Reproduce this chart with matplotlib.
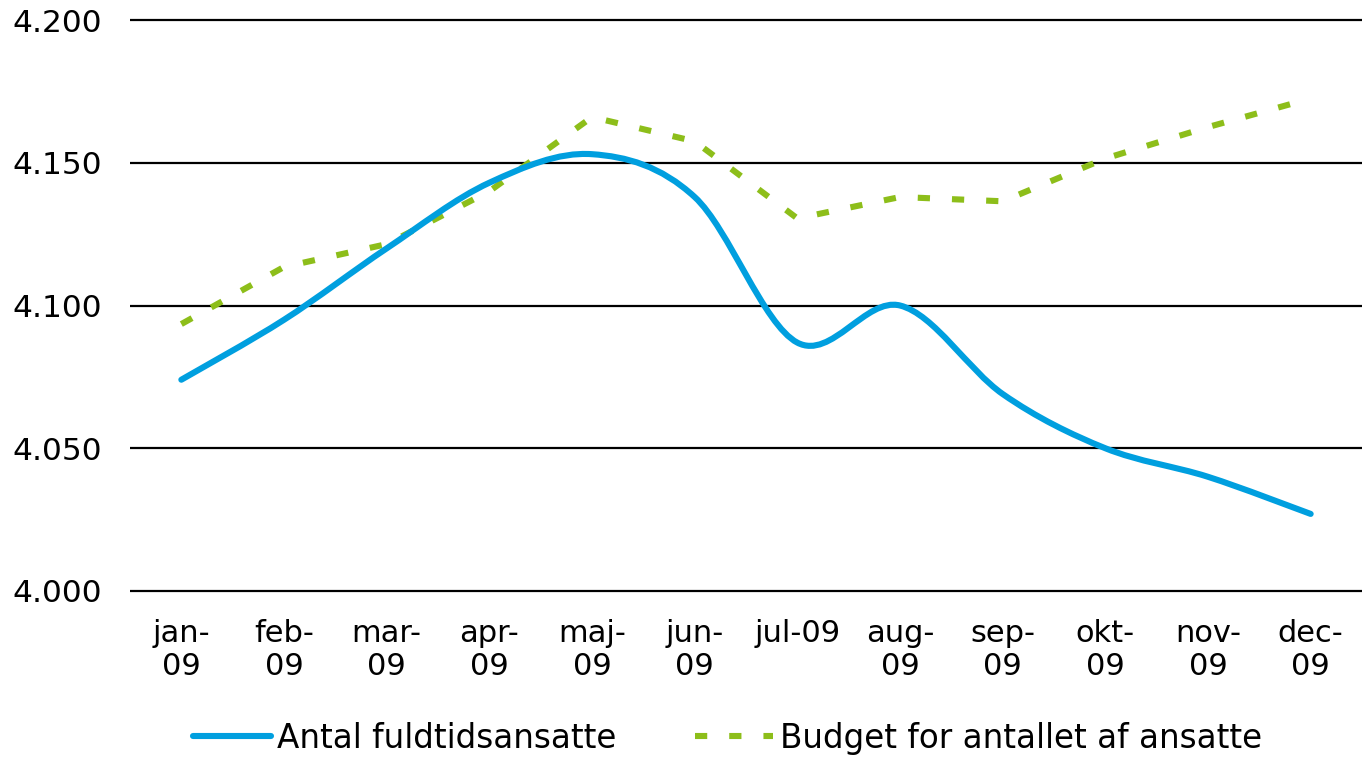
import matplotlib
matplotlib.use("Agg")
import matplotlib.pyplot as plt
from matplotlib.path import Path
from matplotlib.patches import PathPatch
from matplotlib.lines import Line2D

months = ["jan-\n09", "feb-\n09", "mar-\n09", "apr-\n09", "maj-\n09", "jun-\n09",
          "jul-09", "aug-\n09", "sep-\n09", "okt-\n09", "nov-\n09", "dec-\n09"]
antal = [4074, 4095, 4120, 4143, 4153, 4138, 4087, 4100, 4069, 4050, 4040, 4027]
budget = [4093.5, 4113.5, 4121.5, 4140, 4166, 4157.5, 4130.5, 4138, 4136.5, 4151.5, 4162.5, 4172.5]
yticks = [4000, 4050, 4100, 4150, 4200]
ytick_labels = ["4.000", "4.050", "4.100", "4.150", "4.200"]
series_names = ["Antal fuldtidsansatte", "Budget for antallet af ansatte"]

BLUE = "#009FDF"
GREEN = "#8DBE1A"
FS = 22.5

plt.rcParams["font.family"] = ["DejaVu Sans"]


def smooth_path(xs, ys):
    n = len(xs)
    verts = [(xs[0], ys[0])]
    codes = [Path.MOVETO]
    for i in range(n - 1):
        a = i - 1 if i > 0 else i
        b = i + 2 if i + 2 < n else i + 1
        c1 = (xs[i] + (xs[i + 1] - xs[a]) / 6.0, ys[i] + (ys[i + 1] - ys[a]) / 6.0)
        c2 = (xs[i + 1] - (xs[b] - xs[i]) / 6.0, ys[i + 1] - (ys[b] - ys[i]) / 6.0)
        verts += [c1, c2, (xs[i + 1], ys[i + 1])]
        codes += [Path.CURVE4] * 3
    return Path(verts, codes)


fig = plt.figure(figsize=(13.62, 7.57), dpi=100)
ax = fig.add_axes([130 / 1362, 1 - 591 / 757, 1 - 130 / 1362, (591 - 20) / 757])

x = list(range(len(months)))
ax.set_xlim(-0.5, len(months) - 0.5)
ax.set_ylim(yticks[0], yticks[-1])

for v in yticks:
    ax.axhline(v, color="black", lw=1.6, clip_on=False, zorder=1, solid_capstyle="butt")

lw = 4.4
dash = (0, (2.0, 3.6))
ax.add_patch(PathPatch(smooth_path(x, antal), fill=False, edgecolor=BLUE, lw=lw,
                       capstyle="round", joinstyle="round", zorder=3, clip_on=False))
ax.plot(x, budget, color=GREEN, lw=lw, linestyle=dash, dash_capstyle="butt",
        dash_joinstyle="miter", zorder=2, clip_on=False)

for s in ax.spines.values():
    s.set_visible(False)

ax.set_xticks(x)
ax.set_xticklabels(months, fontsize=22, linespacing=1.2)
ax.set_yticks(yticks)
ax.set_yticklabels(ytick_labels, fontsize=FS)
ax.tick_params(axis="both", length=0)
ax.tick_params(axis="y", pad=20)
ax.tick_params(axis="x", pad=20)

handles = [Line2D([], [], color=BLUE, lw=lw, solid_capstyle="round"),
           Line2D([], [], color=GREEN, lw=lw, linestyle=dash, dash_capstyle="butt")]
fig.legend(handles, series_names, loc="center", bbox_to_anchor=(0.534, 0.025),
           ncol=2, frameon=False, fontsize=23.5, handlelength=2.4, handletextpad=0.2,
           columnspacing=2.4, borderaxespad=0, borderpad=0)

fig.savefig("out.png", dpi=100)
